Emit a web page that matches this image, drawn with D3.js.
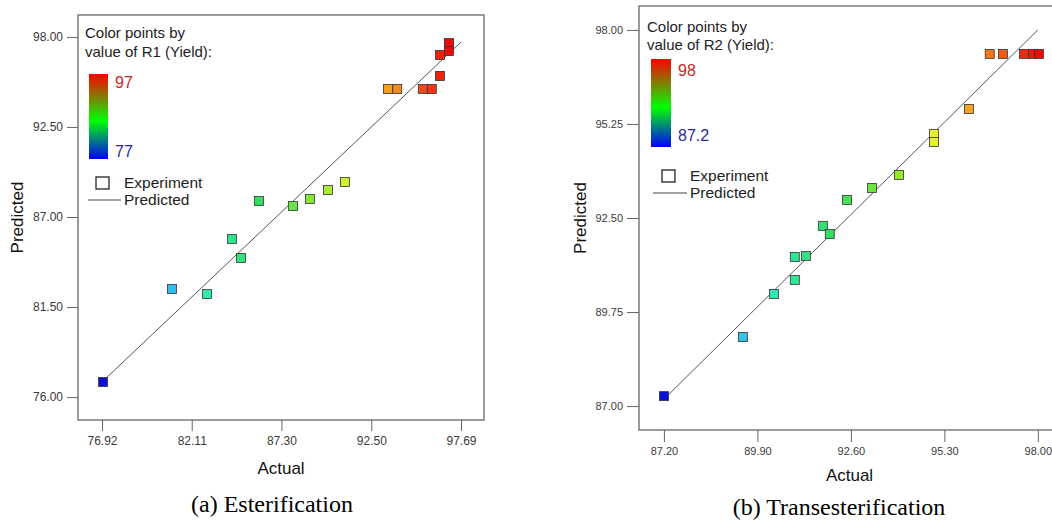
<!DOCTYPE html>
<html>
<head>
<meta charset="utf-8">
<script src="https://cdn.jsdelivr.net/npm/d3@7"></script>
<style>
  body { margin: 0; background: #fff; }
  svg { display: block; }
</style>
</head>
<body>
<script>
// esterification (a): actual vs predicted yield R1
let esterActual    = [96.99, 96.99, 96.47, 96.47, 93.46, 94.00, 95.48, 96.00, 90.97, 89.99, 88.95, 87.97, 86.00, 84.44, 84.96, 80.97, 82.99, 76.98];
let esterPredicted = [97.63, 97.14, 96.90, 95.62, 94.82, 94.82, 94.82, 94.82, 89.14, 88.65, 88.10, 87.67, 87.98, 85.66, 84.50, 82.60, 82.30, 76.92];
let esterXTicks = [76.92, 82.11, 87.30, 92.50, 97.69];
let esterYTicks = [76.00, 81.50, 87.00, 92.50, 98.00];
let esterLegend = [77, 97];

// transesterification (b): actual vs predicted yield R2
let transActual    = [96.61, 96.99, 97.60, 97.86, 98.03, 96.01, 95.00, 95.00, 93.99, 93.21, 92.49, 91.79, 91.99, 90.98, 91.30, 90.98, 90.38, 89.48, 87.20];
let transPredicted = [97.30, 97.30, 97.30, 97.30, 97.30, 95.69, 94.96, 94.72, 93.76, 93.38, 93.03, 92.27, 92.03, 91.36, 91.39, 90.69, 90.28, 89.02, 87.29];
let transXTicks = [87.20, 89.90, 92.60, 95.30, 98.00];
let transYTicks = [87.00, 89.75, 92.50, 95.25, 98.00];
let transLegend = [87.2, 98];

let width = 1052, height = 522;
let font = "Liberation Sans, Arial, sans-serif";

let svg = d3.select("body").append("svg")
    .attr("width", width)
    .attr("height", height);

// legend bar gradient (red top, green middle, blue bottom)
let grad = svg.append("defs").append("linearGradient")
    .attr("id", "legendGrad")
    .attr("x1", 0).attr("y1", 0).attr("x2", 0).attr("y2", 1);
grad.append("stop").attr("offset", "0%").attr("stop-color", "#ff0000");
grad.append("stop").attr("offset", "55%").attr("stop-color", "#00ff00");
grad.append("stop").attr("offset", "100%").attr("stop-color", "#0000ff");

// point colour by normalized yield
let pointColor = d3.scaleLinear()
    .domain([0, 0.2, 0.3, 0.45, 0.62, 0.72, 0.8, 0.9, 1])
    .range(["#0a10d8", "#30bff0", "#30e8b0", "#30e060", "#90e830", "#e8f030", "#f8b020", "#f06018", "#ee0a0a"]);

function drawPanel(p) {
    let x = d3.scaleLinear().domain(p.xDomain).range(p.xRange);
    let y = d3.scaleLinear().domain(p.yDomain).range(p.yRange);
    let g = svg.append("g");

    // frame
    g.append("rect")
        .attr("x", p.xRange[0])
        .attr("y", p.yRange[1])
        .attr("width", p.xRange[1] - p.xRange[0])
        .attr("height", p.yRange[0] - p.yRange[1])
        .attr("fill", "none")
        .attr("stroke", "#666")
        .attr("stroke-width", 1.3);

    let yAxis = g.append("g")
        .attr("transform", "translate(" + p.xRange[0] + ",0)")
        .call(d3.axisLeft(y).tickValues(p.yTicks).tickSize(p.tickLen).tickPadding(4).tickFormat(d3.format(".2f")));
    let xAxis = g.append("g")
        .attr("transform", "translate(0," + p.yRange[0] + ")")
        .call(d3.axisBottom(x).tickValues(p.xTicks).tickSize(p.tickLen).tickPadding(5).tickFormat(d3.format(".2f")));
    [xAxis, yAxis].forEach(function(a) {
        a.select(".domain").remove();
        a.selectAll(".tick line").attr("stroke", "#666");
        a.selectAll(".tick text")
            .attr("fill", "#3a3a3a")
            .style("font-family", font)
            .style("font-size", p.tickFont + "px");
    });

    // y = x reference line
    let lo = p.xTicks[0], hi = p.xTicks[p.xTicks.length - 1];
    g.append("line")
        .attr("x1", x(lo)).attr("y1", y(lo))
        .attr("x2", x(hi)).attr("y2", y(hi))
        .attr("stroke", "#555")
        .attr("stroke-width", 1);

    let cmin = p.legend[0], cmax = p.legend[1];
    let size = 9;
    g.selectAll("rect.pt")
        .data(p.actual)
        .enter()
        .append("rect")
            .attr("class", "pt")
            .attr("x", function(d) { return x(d) - size / 2; })
            .attr("y", function(d, i) { return y(p.predicted[i]) - size / 2; })
            .attr("width", size)
            .attr("height", size)
            .attr("fill", function(d) { return pointColor(Math.max(0, Math.min(1, (d - cmin) / (cmax - cmin)))); })
            .attr("stroke", "#333")
            .attr("stroke-width", 0.8);

    // legend
    let L = p.leg;
    g.append("text").text("Color points by")
        .attr("x", L.x).attr("y", L.t1)
        .style("font-family", font).style("font-size", "15px").attr("fill", "#222");
    g.append("text").text(p.legendTitle)
        .attr("x", L.x).attr("y", L.t2)
        .style("font-family", font).style("font-size", "15px").attr("fill", "#222");
    g.append("rect")
        .attr("x", L.bx).attr("y", L.by)
        .attr("width", L.bw).attr("height", L.bh)
        .attr("fill", "url(#legendGrad)");
    g.append("text").text(String(cmax))
        .attr("x", L.bx + L.bw + 7).attr("y", L.hiY)
        .style("font-family", font).style("font-size", "16px").attr("fill", "#c62828");
    g.append("text").text(String(cmin))
        .attr("x", L.bx + L.bw + 7).attr("y", L.loY)
        .style("font-family", font).style("font-size", "16px").attr("fill", "#2828a8");
    g.append("rect")
        .attr("x", L.sx).attr("y", L.expY - 11)
        .attr("width", 13).attr("height", 12)
        .attr("fill", "#fff").attr("stroke", "#222").attr("stroke-width", 1.3);
    g.append("text").text("Experiment")
        .attr("x", L.tx).attr("y", L.expY)
        .style("font-family", font).style("font-size", "15.5px").attr("fill", "#222");
    g.append("line")
        .attr("x1", L.lx1).attr("x2", L.tx - 3)
        .attr("y1", L.preY - 5).attr("y2", L.preY - 5)
        .attr("stroke", "#444").attr("stroke-width", 1.2);
    g.append("text").text("Predicted")
        .attr("x", L.tx).attr("y", L.preY)
        .style("font-family", font).style("font-size", "15.5px").attr("fill", "#222");

    // axis titles and caption
    g.append("text").text("Actual")
        .attr("x", (p.xRange[0] + p.xRange[1]) / 2).attr("y", p.actualY)
        .attr("text-anchor", "middle")
        .style("font-family", font).style("font-size", "17px").attr("fill", "#111");
    g.append("text").text("Predicted")
        .attr("transform", "translate(" + p.predX + "," + (p.yRange[0] + p.yRange[1]) / 2 + ") rotate(-90)")
        .attr("text-anchor", "middle")
        .style("font-family", font).style("font-size", "17px").attr("fill", "#111");
    g.append("text").text(p.caption)
        .attr("x", p.capX).attr("y", p.capY)
        .attr("text-anchor", "middle")
        .style("font-family", "Liberation Serif, Times New Roman, serif")
        .style("font-size", "24px").attr("fill", "#000");
}

drawPanel({
    actual: esterActual, predicted: esterPredicted,
    xTicks: esterXTicks, yTicks: esterYTicks, legend: esterLegend,
    xDomain: [75.53, 99.02], xRange: [78, 484],
    yDomain: [74.6, 99.34], yRange: [420, 15],
    tickLen: 11, tickFont: 12,
    legendTitle: "value of R1 (Yield):",
    leg: {x: 85, t1: 38, t2: 57, bx: 89, by: 74, bw: 19, bh: 85, hiY: 88, loY: 157,
          sx: 96, expY: 188, preY: 205, lx1: 88, tx: 124},
    actualY: 474, predX: 23,
    caption: "(a) Esterification", capX: 272, capY: 512
});

drawPanel({
    actual: transActual, predicted: transPredicted,
    xTicks: transXTicks, yTicks: transYTicks, legend: transLegend,
    xDomain: [86.48, 98.64], xRange: [639, 1060],
    yDomain: [86.30, 98.70], yRange: [430, 6],
    tickLen: 12, tickFont: 11,
    legendTitle: "value of R2 (Yield):",
    leg: {x: 647, t1: 32, t2: 50, bx: 651, by: 59, bw: 20, bh: 88, hiY: 76, loY: 141,
          sx: 662, expY: 181, preY: 198, lx1: 653, tx: 690},
    actualY: 481, predX: 586,
    caption: "(b) Transesterification", capX: 839, capY: 515
});
</script>
</body>
</html>
